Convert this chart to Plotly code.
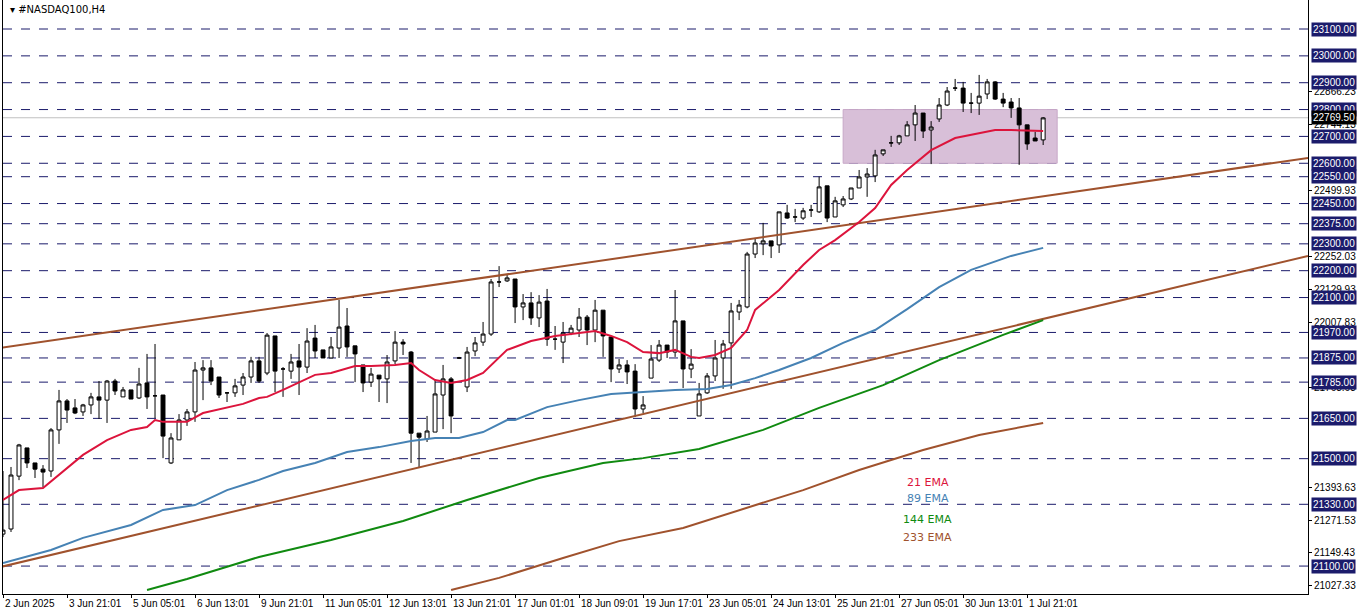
import plotly.graph_objects as go

# H4 candles, 2 Jun 2025 .. 1 Jul 2025 21:01
opens = [21219, 21238, 21435, 21540, 21484, 21461, 21454, 21607, 21715, 21689,
         21674, 21700, 21730, 21718, 21789, 21730, 21756, 21726, 21782, 21734,
         21737, 21484, 21570, 21644, 21674, 21830, 21838, 21804, 21745, 21745,
         21774, 21804, 21864,
         21819, 21957, 21834, 21826, 21864, 21841, 21949, 21905, 21875, 21912,
         21994, 21920, 21849, 21785, 21811, 21797, 21864, 21934, 21897, 21595,
         21573, 21599, 21737, 21797, 21875, 21767, 21901, 21934, 21964, 22158,
         22162,
         22169, 22065, 22080, 22024, 22087, 21945, 21934, 21968, 21979, 22027,
         21979, 22053, 21953, 21834, 21849, 21826, 21685, 21800, 21867, 21923,
         21897, 22013, 21834, 21659, 21745, 21808, 21875, 21931, 22046, 22065,
         22262, 22300, 22311, 22296, 22415, 22400, 22396, 22426, 22419, 22516,
         22400, 22445, 22467, 22508, 22549, 22553, 22635, 22676, 22676, 22702,
         22743, 22787, 22724, 22765, 22817, 22880, 22880, 22824, 22824, 22858,
         22903, 22839, 22828, 22806, 22743, 22694, 22687]
highs = [21454, 21469, 21555, 21540, 21484, 21476, 21614, 21756, 21722, 21722,
         21704, 21745, 21789, 21793, 21797, 21767, 21756, 21838, 21890, 21927,
         21737, 21595, 21666, 21685, 21860, 21867, 21867, 21804, 21748, 21797,
         21819, 21879, 21879,
         21968, 21957, 21841, 21890, 21927, 21986, 21998, 21905, 21953, 22091,
         22061, 21920, 21849, 21838, 21811, 21886, 21975, 21945, 21901, 21595,
         21659, 21793, 21849, 21804, 21879, 21916, 21953, 22009, 22169, 22217,
         22184,
         22169, 22113, 22120, 22109, 22132, 21994, 22009, 21998, 22061, 22035,
         22091, 22053, 21953, 21871, 21867, 21852, 21733, 21923, 21942, 21923,
         22128, 22013, 21908, 21782, 21819, 21942, 21942, 22080, 22091, 22270,
         22322, 22378, 22311, 22419, 22445, 22430, 22434, 22445, 22550, 22516,
         22475, 22478, 22508, 22575, 22582, 22650, 22650, 22702, 22706, 22757,
         22817, 22787, 22757, 22843, 22884, 22914, 22903, 22862, 22929, 22914,
         22906, 22862, 22843, 22843, 22743, 22717, 22772]
lows = [21208, 21227, 21420, 21465, 21428, 21394, 21432, 21555, 21633, 21666,
        21659, 21666, 21648, 21633, 21737, 21730, 21722, 21722, 21685, 21651,
        21502, 21480, 21570, 21622, 21637, 21718, 21774, 21726, 21711, 21730,
        21737, 21782, 21782,
        21811, 21748, 21730, 21797, 21737, 21819, 21875, 21875, 21875, 21875,
        21879, 21785, 21748, 21767, 21711, 21707, 21852, 21886, 21484, 21469,
        21562, 21599, 21610, 21595, 21871, 21748, 21882, 21920, 21957, 22139,
        22158,
        22005, 22016, 21998, 21990, 21920, 21905, 21856, 21960, 21953, 21923,
        21934, 21879, 21785, 21819, 21778, 21655, 21670, 21800, 21860, 21875,
        21879, 21763, 21800, 21659, 21741, 21789, 21760, 21760, 22016, 22060,
        22247, 22258, 22247, 22266, 22393, 22381, 22389, 22400, 22415, 22381,
        22400, 22437, 22463, 22508, 22475, 22530, 22627, 22661, 22668, 22702,
        22683, 22694, 22597, 22754, 22813, 22869, 22791, 22787, 22780, 22839,
        22836, 22809, 22769, 22594, 22650, 22683, 22668]
closes = [21234, 21439, 21551, 21484, 21461, 21450, 21607, 21715, 21681, 21670,
          21700, 21730, 21718, 21789, 21752, 21756, 21722, 21778, 21730, 21734,
          21584, 21577, 21644, 21674, 21830, 21838, 21789, 21737, 21745, 21771,
          21804, 21864, 21789,
          21960, 21826, 21834, 21860, 21841, 21938, 21901, 21875, 21916, 21990,
          21916, 21890, 21782, 21815, 21797, 21860, 21934, 21927, 21595, 21580,
          21603, 21741, 21797, 21659, 21875, 21897, 21931, 21964, 22158, 22158,
          22173,
          22065, 22080, 22024, 22083, 21945, 21945, 21968, 21986, 22027, 21979,
          22053, 21957, 21834, 21849, 21823, 21685, 21700, 21871, 21923, 21897,
          22013, 21834, 21852, 21741, 21808, 21875, 21927, 22050, 22072, 22262,
          22303, 22311, 22292, 22419, 22396, 22400, 22423, 22426, 22512, 22396,
          22460, 22467, 22508, 22549, 22560, 22631, 22650, 22676, 22702, 22743,
          22787, 22720, 22735, 22817, 22869, 22880, 22824, 22824, 22850, 22903,
          22839, 22824, 22806, 22743, 22672, 22683, 22769]
bars = list(range(len(closes)))

# moving averages, sampled along the lines (bar index, price)
ema21_x = [0, 2, 5, 7, 10, 13, 16, 18, 19, 20, 23, 25, 30, 32, 33, 35, 39, 41, 43, 44,
           46, 49, 51, 52, 54, 56, 58, 60, 63, 66, 69, 71, 74, 76, 78, 80, 82, 84, 86,
           87, 89, 91, 93, 94, 97, 100, 102, 104, 107, 109, 111, 113, 116, 119, 122,
           124, 126, 130]
ema21_y = [21346, 21383, 21391, 21439, 21514, 21569, 21607, 21618, 21644, 21637, 21637,
           21670, 21704, 21726, 21730, 21756, 21812, 21819, 21838, 21845, 21845, 21849,
           21856, 21830, 21793, 21782, 21793, 21819, 21905, 21938, 21957, 21964, 21975,
           21957, 21934, 21897, 21893, 21905, 21879, 21875, 21886, 21912, 21979, 22054,
           22128, 22221, 22277, 22314, 22381, 22433, 22519, 22575, 22649, 22694, 22713,
           22724, 22724, 22720]
ema89_x = [0, 6, 10, 16, 20, 24, 28, 32, 35, 39, 43, 47, 51, 54, 57, 60, 63, 64, 68,
           72, 76, 80, 84, 88, 91, 94, 97, 101, 105, 109, 113, 117, 121, 126, 130]
ema89_y = [21111, 21160, 21205, 21253, 21309, 21327, 21383, 21421, 21454, 21484, 21525,
           21543, 21566, 21577, 21577, 21599, 21644, 21644, 21692, 21718, 21741, 21748,
           21756, 21759, 21774, 21800, 21830, 21875, 21931, 21979, 22057, 22139, 22203,
           22255, 22285]
ema144_x = [18, 23, 32, 41, 50, 58, 67, 75, 80, 87, 95, 102, 110, 117, 125, 130]
ema144_y = [21011, 21052, 21134, 21197, 21268, 21346, 21428, 21484, 21502, 21536, 21607,
            21689, 21774, 21867, 21961, 22016]
ema233_x = [56, 62, 70, 77, 85, 92, 100, 107, 115, 122, 130]
ema233_y = [21011, 21056, 21130, 21193, 21242, 21309, 21383, 21458, 21532, 21588, 21633]

# trend lines (bar, price) pairs
trend_upper = ([-0.4, 163.1], [21912, 22620])
trend_lower = ([-0.4, 163.1], [21096, 22255])

levels = [23100, 23000, 22900, 22800, 22700, 22600, 22550, 22450, 22375, 22300, 22200,
          22100, 21970, 21875, 21785, 21650, 21500, 21330, 21100]
axis_ticks = [22866.23, 22744.13, 22499.93, 22252.03, 22129.93, 22007.83, 21763.63,
              21393.63, 21271.53, 21149.43, 21027.33]
bid = 22769.50
zone = (105, 131.75, 22600, 22800)

date_pos = [0, 8, 16, 24, 32, 40, 48, 56, 64, 72, 80, 88, 96, 104, 112, 120, 128]
date_text = ['2 Jun 2025', '3 Jun 21:01', '5 Jun 05:01', '6 Jun 13:01', '9 Jun 21:01',
             '11 Jun 05:01', '12 Jun 13:01', '13 Jun 21:01', '17 Jun 01:01', '18 Jun 09:01',
             '19 Jun 17:01', '23 Jun 05:01', '24 Jun 13:01', '25 Jun 21:01', '27 Jun 05:01',
             '30 Jun 13:01', '1 Jul 21:01']

navy = '#1b1b6b'
lab_font = 'Liberation Sans'
fig = go.Figure()

shapes = []
for lv in levels:
    shapes.append(dict(type='line', xref='paper', x0=0, x1=1, yref='y', y0=lv, y1=lv,
                       line=dict(color=navy, width=1, dash='dash'), layer='below'))
shapes.append(dict(type='line', xref='paper', x0=0, x1=1, yref='y', y0=bid, y1=bid,
                   line=dict(color='#c0c0c0', width=1), layer='below'))
shapes.append(dict(type='rect', x0=zone[0], x1=zone[1], y0=zone[2], y1=zone[3],
                   fillcolor='#d8bfd8', line=dict(color='#c8a8c8', width=1), layer='below'))

for tx, ty in [trend_upper, trend_lower]:
    fig.add_trace(go.Scatter(x=tx, y=ty, mode='lines', line=dict(color='#a0522d', width=2),
                             hoverinfo='skip'))
fig.add_trace(go.Scatter(x=ema233_x, y=ema233_y, mode='lines', line=dict(color='#a0522d', width=2)))
fig.add_trace(go.Scatter(x=ema144_x, y=ema144_y, mode='lines', line=dict(color='#108a10', width=2)))
fig.add_trace(go.Scatter(x=ema89_x, y=ema89_y, mode='lines', line=dict(color='#4682b4', width=2)))
fig.add_trace(go.Scatter(x=ema21_x, y=ema21_y, mode='lines', line=dict(color='#dc143c', width=2)))

fig.add_trace(go.Candlestick(
    x=bars, open=opens, high=highs, low=lows, close=closes,
    increasing=dict(line=dict(color='black', width=1), fillcolor='white'),
    decreasing=dict(line=dict(color='black', width=1), fillcolor='black'),
    whiskerwidth=0))

ann = []
for lv in levels:
    ann.append(dict(xref='paper', x=1.002, yref='y', y=lv, text=f'{lv:.2f}', showarrow=False,
                    xanchor='left', bgcolor=navy, font=dict(color='white', size=10,
                    family=lab_font), borderpad=1))
ann.append(dict(xref='paper', x=1.002, yref='y', y=bid, text=f'{bid:.2f}', showarrow=False,
                xanchor='left', bgcolor='black', font=dict(color='white', size=10,
                family=lab_font), borderpad=1))
for p, t in zip(date_pos, date_text):
    ann.append(dict(xref='x', x=p, yref='paper', y=0, yshift=-2, text=t, showarrow=False,
                    xanchor='left', yanchor='top', font=dict(size=10, color='black',
                    family=lab_font)))
ema_labels = [('21 EMA', '#dc143c'), ('89 EMA', '#4682b4'), ('144 EMA', '#108a10'),
              ('233 EMA', '#a0522d')]
for k, (t, c) in enumerate(ema_labels):
    ann.append(dict(xref='x', x=115.6, yref='paper', y=[0.173, 0.147, 0.111, 0.081][k],
                    text=t, showarrow=False, font=dict(size=11, color=c,
                    family='DejaVu Sans')))
ann.append(dict(xref='paper', x=0.004, yref='paper', y=0.997, xanchor='left', yanchor='top',
                text='▾ #NASDAQ100,H4', showarrow=False,
                font=dict(size=10, color='black', family='DejaVu Sans')))

fig.update_layout(
    width=1362, height=611, margin=dict(l=3, r=54, t=0, b=17),
    paper_bgcolor='white', plot_bgcolor='white', showlegend=False,
    shapes=shapes, annotations=ann,
    xaxis=dict(range=[0, 163.1], rangeslider=dict(visible=False), showgrid=False,
               zeroline=False, tickvals=date_pos, ticktext=['' for _ in date_pos],
               ticks='outside', ticklen=3, tickcolor='black', showline=True,
               linecolor='black', mirror=False),
    yaxis=dict(range=[20996, 23208], side='right', showgrid=False, zeroline=False,
               tickvals=axis_ticks, ticktext=[f'{v:.2f}' for v in axis_ticks],
               ticks='outside', ticklen=3, tickcolor='black', showline=True,
               linecolor='black', mirror=True,
               tickfont=dict(size=10, color='black', family=lab_font)),
)

fig.write_html("out.html", config={'displayModeBar': False},
               post_script="document.body.style.margin='0';")
